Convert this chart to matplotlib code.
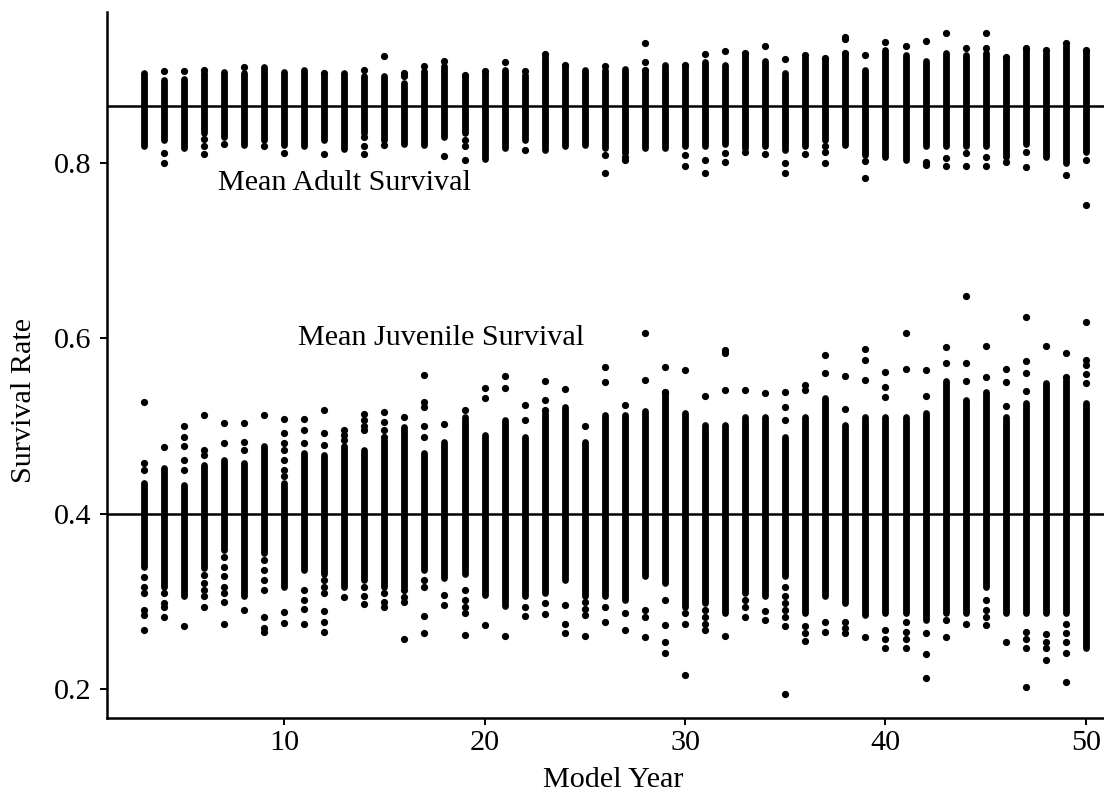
import matplotlib
matplotlib.use("Agg")
import matplotlib.pyplot as plt

plt.rcParams['font.family'] = ['Liberation Serif', 'DejaVu Serif']

years = list(range(3, 51))

ADULT_MEAN = 0.865
JUV_MEAN = 0.40

# dense part of each adult column (top / bottom)
adult_hi = [0.903, 0.895, 0.896, 0.902, 0.904, 0.902, 0.909, 0.904, 0.906, 0.900,
            0.903, 0.899, 0.899, 0.891, 0.905, 0.910, 0.898, 0.903, 0.906, 0.900,
            0.921, 0.910, 0.906, 0.906, 0.907, 0.904, 0.912, 0.910, 0.915, 0.912,
            0.923, 0.916, 0.903, 0.920, 0.918, 0.923, 0.906, 0.929, 0.923, 0.916,
            0.925, 0.923, 0.925, 0.918, 0.929, 0.925, 0.933, 0.927]
adult_lo = [0.819, 0.826, 0.817, 0.834, 0.830, 0.821, 0.826, 0.821, 0.819, 0.826,
            0.816, 0.834, 0.826, 0.822, 0.821, 0.830, 0.834, 0.805, 0.817, 0.826,
            0.815, 0.819, 0.821, 0.817, 0.811, 0.817, 0.817, 0.819, 0.819, 0.822,
            0.817, 0.819, 0.815, 0.819, 0.826, 0.821, 0.809, 0.807, 0.803, 0.819,
            0.819, 0.819, 0.819, 0.807, 0.822, 0.807, 0.800, 0.813]
# separate dots outside the dense part
adult_extra = [
    [], [0.905, 0.811, 0.800], [0.905], [0.906, 0.827, 0.819, 0.810], [0.822],
    [0.909], [0.819], [0.811], [], [0.903, 0.810],
    [], [0.906, 0.830, 0.819, 0.810], [0.922, 0.820], [0.902, 0.899], [0.911],
    [0.916, 0.808], [0.900, 0.826, 0.819, 0.803], [0.905], [0.915], [0.905, 0.815],
    [0.924], [0.912], [], [0.910, 0.809, 0.788], [0.807, 0.803],
    [0.937, 0.915, 0.906], [], [0.912, 0.809, 0.796], [0.924, 0.803, 0.788], [0.928, 0.811, 0.801],
    [0.925, 0.813], [0.933, 0.810], [0.918, 0.800, 0.789], [0.923, 0.810], [0.920, 0.819, 0.813, 0.800],
    [0.944, 0.941, 0.925], [0.923, 0.802, 0.783], [0.938], [0.933], [0.939, 0.801, 0.798],
    [0.948, 0.806, 0.796], [0.931, 0.811, 0.796], [0.948, 0.931, 0.807, 0.796], [0.921, 0.801], [0.931, 0.813, 0.795],
    [0.929], [0.937, 0.786], [0.929, 0.803, 0.752],
]

juv_hi = [0.435, 0.452, 0.433, 0.456, 0.462, 0.458, 0.477, 0.435, 0.469, 0.467,
          0.477, 0.473, 0.484, 0.499, 0.469, 0.482, 0.511, 0.490, 0.507, 0.488,
          0.515, 0.522, 0.482, 0.513, 0.513, 0.517, 0.539, 0.515, 0.501, 0.501,
          0.511, 0.511, 0.488, 0.511, 0.532, 0.501, 0.511, 0.511, 0.511, 0.515,
          0.551, 0.530, 0.539, 0.511, 0.526, 0.549, 0.553, 0.526]
juv_lo = [0.340, 0.317, 0.306, 0.338, 0.359, 0.306, 0.355, 0.317, 0.336, 0.332,
          0.317, 0.325, 0.317, 0.317, 0.336, 0.327, 0.332, 0.308, 0.295, 0.306,
          0.310, 0.325, 0.306, 0.306, 0.302, 0.329, 0.321, 0.294, 0.298, 0.287,
          0.310, 0.306, 0.329, 0.287, 0.306, 0.298, 0.285, 0.287, 0.287, 0.279,
          0.287, 0.287, 0.317, 0.287, 0.287, 0.287, 0.287, 0.247]
juv_extra = [
    [0.528, 0.458, 0.450, 0.328, 0.317, 0.310, 0.291, 0.285, 0.268],
    [0.476, 0.310, 0.298, 0.294, 0.283],
    [0.500, 0.488, 0.477, 0.462, 0.450, 0.272],
    [0.513, 0.473, 0.467, 0.330, 0.321, 0.313, 0.306, 0.294],
    [0.504, 0.481, 0.351, 0.340, 0.329, 0.317, 0.310, 0.300, 0.275],
    [0.504, 0.482, 0.473, 0.290],
    [0.513, 0.348, 0.336, 0.325, 0.313, 0.283, 0.270, 0.266],
    [0.508, 0.492, 0.481, 0.473, 0.462, 0.450, 0.443, 0.288, 0.276],
    [0.508, 0.496, 0.481, 0.313, 0.302, 0.292, 0.275],
    [0.518, 0.492, 0.479, 0.325, 0.317, 0.310, 0.289, 0.277, 0.266],
    [0.496, 0.490, 0.484, 0.305],
    [0.514, 0.507, 0.500, 0.496, 0.317, 0.306, 0.297],
    [0.516, 0.505, 0.496, 0.488, 0.310, 0.300, 0.294],
    [0.510, 0.313, 0.305, 0.300, 0.258],
    [0.558, 0.528, 0.522, 0.500, 0.488, 0.325, 0.317, 0.284, 0.264],
    [0.503, 0.308, 0.296],
    [0.518, 0.313, 0.302, 0.294, 0.287, 0.262],
    [0.543, 0.532, 0.274],
    [0.557, 0.543, 0.261],
    [0.524, 0.507, 0.294, 0.284],
    [0.552, 0.530, 0.518, 0.298, 0.286],
    [0.542, 0.296, 0.275, 0.264],
    [0.500, 0.300, 0.292, 0.285, 0.261],
    [0.567, 0.550, 0.294, 0.277],
    [0.524, 0.287, 0.268],
    [0.606, 0.553, 0.291, 0.283, 0.260],
    [0.567, 0.539, 0.302, 0.274, 0.254, 0.241],
    [0.564, 0.287, 0.275, 0.217],
    [0.534, 0.291, 0.283, 0.275, 0.268],
    [0.587, 0.583, 0.541, 0.261],
    [0.541, 0.302, 0.294, 0.283],
    [0.538, 0.289, 0.279],
    [0.539, 0.522, 0.507, 0.317, 0.306, 0.298, 0.291, 0.283, 0.272, 0.195],
    [0.547, 0.541, 0.272, 0.264, 0.255],
    [0.581, 0.561, 0.277, 0.266],
    [0.557, 0.520, 0.277, 0.270, 0.264],
    [0.588, 0.576, 0.553, 0.260],
    [0.562, 0.545, 0.533, 0.268, 0.258, 0.247],
    [0.606, 0.565, 0.277, 0.266, 0.258, 0.247],
    [0.564, 0.534, 0.264, 0.240, 0.213],
    [0.590, 0.572, 0.279, 0.260],
    [0.648, 0.572, 0.551, 0.275],
    [0.591, 0.556, 0.302, 0.291, 0.283, 0.274],
    [0.565, 0.550, 0.523, 0.254],
    [0.625, 0.574, 0.561, 0.540, 0.266, 0.258, 0.247, 0.203],
    [0.591, 0.263, 0.254, 0.247, 0.234],
    [0.583, 0.556, 0.275, 0.264, 0.254, 0.241, 0.208],
    [0.619, 0.576, 0.570, 0.560, 0.549],
]

x_ticks = [10, 20, 30, 40, 50]
y_ticks = [0.2, 0.4, 0.6, 0.8]
y_tick_labels = ['0.2', '0.4', '0.6', '0.8']

FS = 21.7


def flatten(extra):
    xs, ys = [], []
    for yr, vals in zip(years, extra):
        for v in vals:
            xs.append(yr)
            ys.append(v)
    return xs, ys


fig = plt.figure(figsize=(11.04, 8), dpi=100)
ax = fig.add_axes([0.097, 0.1025, 0.903, 0.8825])

ax.axhline(ADULT_MEAN, color='black', lw=1.8, zorder=1)
ax.axhline(JUV_MEAN, color='black', lw=1.8, zorder=1)

for lo, hi, extra in [(adult_lo, adult_hi, adult_extra), (juv_lo, juv_hi, juv_extra)]:
    ax.vlines(years, lo, hi, colors='black', linewidth=4.9, capstyle='round', zorder=2)
    xs, ys = flatten(extra)
    ax.plot(xs, ys, 'o', color='black', ms=5.2, mew=0, zorder=2)

ax.text(6.7, 0.769, 'Mean Adult Survival', fontsize=FS, va='baseline')
ax.text(10.7, 0.593, 'Mean Juvenile Survival', fontsize=FS, va='baseline')

ax.set_xlim(1.17, 50.9)
ax.set_ylim(0.1675, 0.972)
ax.set_xticks(x_ticks)
ax.set_yticks(y_ticks)
ax.set_yticklabels(y_tick_labels)
ax.tick_params(direction='out', length=5, width=1.4, labelsize=FS, pad=4)
ax.tick_params(axis='y', pad=6)

for side in ['top', 'right']:
    ax.spines[side].set_visible(False)
for side in ['left', 'bottom']:
    ax.spines[side].set_linewidth(1.8)

ax.set_xlabel('Model Year', fontsize=FS)
ax.set_ylabel('Survival Rate', fontsize=FS)
ax.xaxis.label.set_va('center')
ax.yaxis.label.set_va('center')
ax.xaxis.set_label_coords(0.508, -0.088)
ax.yaxis.set_label_coords(-0.083, 0.45)

fig.savefig('out.png', dpi=100)
